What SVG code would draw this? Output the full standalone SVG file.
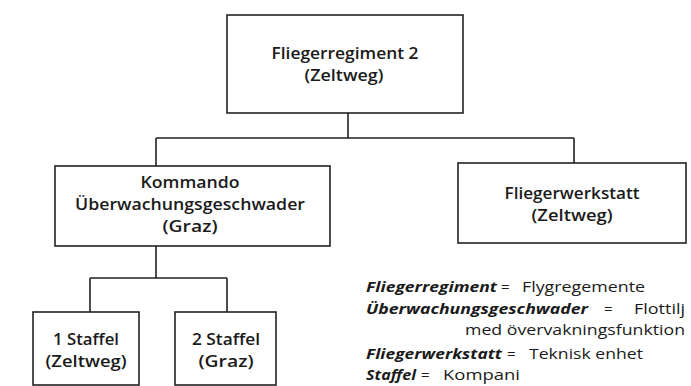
<svg xmlns="http://www.w3.org/2000/svg" width="691" height="386" viewBox="0 0 691 386">
<style>
.box{fill:#fff;stroke:#222;stroke-width:1.6}
.c{fill:none;stroke:#222;stroke-width:1.6}
.t{font-family:"Open Sans","Liberation Sans",sans-serif;font-size:16px;font-weight:600;fill:#1a1a1a;text-anchor:middle}
.l{font-family:"Open Sans","Liberation Sans",sans-serif;font-size:15px;fill:#1a1a1a}
.b{font-weight:700;font-style:italic}
</style>
<rect width="691" height="386" fill="#fff"/>
<g id="connectors">
<path class="c" d="M348 113V138M156 138H574M156 138V166M574 138V163M156 246V278M90 278H227M90 278V312M227 278V312"/>
</g>
<g id="n1"><rect class="box" x="227" y="15" width="236" height="98"/>
<text class="t" x="345" y="59" textLength="147" lengthAdjust="spacingAndGlyphs">Fliegerregiment 2</text>
<text class="t" x="344" y="81" textLength="79" lengthAdjust="spacingAndGlyphs">(Zeltweg)</text></g>
<g id="n2"><rect class="box" x="55" y="166" width="275" height="80"/>
<text class="t" x="190" y="188" textLength="99" lengthAdjust="spacingAndGlyphs">Kommando</text>
<text class="t" x="190" y="210" textLength="230" lengthAdjust="spacingAndGlyphs">Überwachungsgeschwader</text>
<text class="t" x="190" y="232" textLength="55" lengthAdjust="spacingAndGlyphs">(Graz)</text></g>
<g id="n3"><rect class="box" x="458" y="163" width="228" height="80"/>
<text class="t" x="572" y="199" textLength="135" lengthAdjust="spacingAndGlyphs">Fliegerwerkstatt</text>
<text class="t" x="572" y="221" textLength="81" lengthAdjust="spacingAndGlyphs">(Zeltweg)</text></g>
<g id="n4"><rect class="box" x="33" y="312" width="106" height="73"/>
<text class="t" x="86" y="345" textLength="66" lengthAdjust="spacingAndGlyphs">1 Staffel</text>
<text class="t" x="86" y="367" textLength="81" lengthAdjust="spacingAndGlyphs">(Zeltweg)</text></g>
<g id="n5"><rect class="box" x="175" y="312" width="101" height="73"/>
<text class="t" x="226" y="345" textLength="68" lengthAdjust="spacingAndGlyphs">2 Staffel</text>
<text class="t" x="226" y="367" textLength="55" lengthAdjust="spacingAndGlyphs">(Graz)</text></g>
<g id="legend">
<text class="l b" x="366" y="292" textLength="131" lengthAdjust="spacingAndGlyphs">Fliegerregiment</text>
<text class="l" x="501" y="292">=</text>
<text class="l" x="522" y="292" textLength="123" lengthAdjust="spacingAndGlyphs">Flygregemente</text>
<text class="l b" x="366" y="314" textLength="222" lengthAdjust="spacingAndGlyphs">Überwachungsgeschwader</text>
<text class="l" x="604" y="314">=</text>
<text class="l" x="634" y="314" textLength="51" lengthAdjust="spacingAndGlyphs">Flottilj</text>
<text class="l" x="465" y="335" textLength="220" lengthAdjust="spacingAndGlyphs">med övervakningsfunktion</text>
<text class="l b" x="366" y="359" textLength="136" lengthAdjust="spacingAndGlyphs">Fliegerwerkstatt</text>
<text class="l" x="507" y="359">=</text>
<text class="l" x="529" y="359" textLength="114" lengthAdjust="spacingAndGlyphs">Teknisk enhet</text>
<text class="l b" x="366" y="380" textLength="50" lengthAdjust="spacingAndGlyphs">Staffel</text>
<text class="l" x="421" y="380">=</text>
<text class="l" x="443" y="380" textLength="77" lengthAdjust="spacingAndGlyphs">Kompani</text>
</g>
</svg>
